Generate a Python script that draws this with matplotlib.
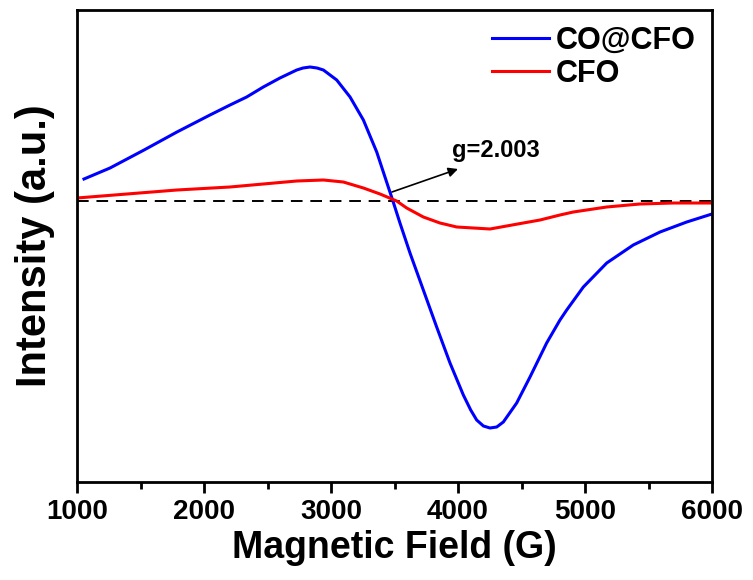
import matplotlib
matplotlib.use('Agg')
from matplotlib import pyplot as plt
from matplotlib.ticker import MultipleLocator

plt.rcParams['font.family'] = ['Liberation Sans', 'DejaVu Sans']
plt.rcParams['font.weight'] = 'bold'

# CO@CFO (blue)
field_co = [1055, 1260, 1528, 1787, 2047, 2205, 2336, 2467, 2598, 2730, 2780, 2835, 2890,
            2940, 3045, 3150, 3255, 3360, 3438, 3490, 3543, 3622, 3727, 3832, 3937, 4042,
            4100, 4147, 4200, 4252, 4305, 4357, 4462, 4567, 4698, 4803, 4856, 4987, 5171,
            5380, 5591, 5801, 6000]
int_co = [22, 33, 51, 69, 86, 96, 104, 114, 123, 131, 133, 134, 133,
          131, 121, 104, 81, 49, 19, -1, -22, -52, -89, -126, -162, -194,
          -209, -219, -225, -227, -226, -221, -202, -176, -142, -119, -109, -86, -62,
          -44, -31, -21, -13]

# CFO (red)
field_cfo = [1000, 1787, 2205, 2467, 2730, 2940, 3097, 3255, 3386, 3517, 3596, 3727,
             3858, 3990, 4252, 4514, 4646, 4803, 4908, 5171, 5433, 5696, 6000]
int_cfo = [3, 11, 14, 17, 20, 21, 19, 13, 7, 0, -7, -16,
           -22, -26, -28, -22, -19, -14, -11, -6, -3, -2, -2]

fig = plt.figure(figsize=(7.53, 5.8), dpi=100)
ax = fig.add_axes([77/753, 1-482/580, 635/753, 472/580])

ax.plot(field_co, int_co, color='#0000ff', lw=2.2, label='CO@CFO')
ax.plot(field_cfo, int_cfo, color='#ff0000', lw=2.2, label='CFO')
ax.axhline(0, color='black', lw=1.4, ls=(0, (6, 4)), zorder=0)

ax.annotate('', xy=(4000, 32), xytext=(3480, 9),
            arrowprops=dict(arrowstyle='-|>', color='black', lw=1.2, mutation_scale=14,
                            shrinkA=0, shrinkB=0))
ax.text(3955, 44, 'g=2.003', fontsize=17, fontweight='bold')

ax.set_xlim(1000, 6000)
ax.set_ylim(-281, 191)
ax.xaxis.set_major_locator(MultipleLocator(1000))
ax.xaxis.set_minor_locator(MultipleLocator(500))
ax.set_yticks([])
ax.tick_params(axis='x', which='major', direction='out', length=8, width=2, labelsize=20, pad=4)
ax.tick_params(axis='x', which='minor', direction='out', length=5, width=2)
for s in ax.spines.values():
    s.set_linewidth(2)

ax.set_xlabel('Magnetic Field (G)', fontsize=27, fontweight='bold', labelpad=4)
ax.set_ylabel('Intensity (a.u.)', fontsize=30, fontweight='bold', labelpad=16)

ax.legend(loc='upper left', bbox_to_anchor=(492/753, 1-26/580), bbox_transform=fig.transFigure,
          frameon=False, fontsize=22, handlelength=1.85, handletextpad=0.25,
          borderpad=0, borderaxespad=0, labelspacing=0.1)

plt.savefig('out.png', dpi=100)
